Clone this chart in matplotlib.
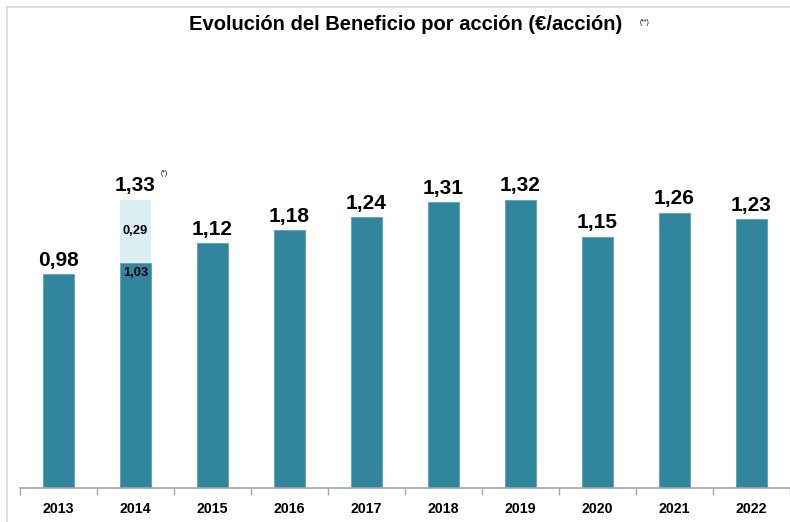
import matplotlib.pyplot as plt
from matplotlib.lines import Line2D

plt.rcParams["font.family"] = ["Liberation Sans", "DejaVu Sans"]

years = ["2013", "2014", "2015", "2016", "2017", "2018", "2019", "2020", "2021", "2022"]
eps = [0.98, 1.03, 1.12, 1.18, 1.24, 1.31, 1.32, 1.15, 1.26, 1.23]
extra_2014 = [0, 0.29, 0, 0, 0, 0, 0, 0, 0, 0]
labels = ["0,98", "1,33", "1,12", "1,18", "1,24", "1,31", "1,32", "1,15", "1,26", "1,23"]

DARK = "#31859C"
LIGHT = "#DBEEF4"

fig = plt.figure(figsize=(7.9, 5.22), dpi=100)
ax = fig.add_axes([20 / 790, 34 / 522, 770 / 790, 448 / 522])

x = range(len(years))
ax.bar(x, eps, width=0.4, color=DARK, edgecolor="#5BA3B8", linewidth=0.6)
ax.bar(x, extra_2014, bottom=eps, width=0.4, color=LIGHT, edgecolor="none")

for i, lab in enumerate(labels):
    top = eps[i] + extra_2014[i]
    ax.text(i, top + 0.02, lab, ha="center", va="bottom", fontsize=15, fontweight="bold")
    if extra_2014[i] > 0:
        ax.text(i, eps[i] + extra_2014[i] / 2, f"{extra_2014[i]:.2f}".replace(".", ","),
                ha="center", va="center", fontsize=9.3, fontweight="bold")
        ax.text(i, eps[i] - 0.045, f"{eps[i]:.2f}".replace(".", ","),
                ha="center", va="center", fontsize=9.3, fontweight="bold")
        ax.text(i + 0.33, top + 0.12, "(*)", ha="left", va="center", fontsize=5)

ax.set_xlim(-0.5, len(years) - 0.5)
ax.set_ylim(0, 448 / 218.4)

for side in ["top", "right", "left"]:
    ax.spines[side].set_visible(False)
ax.spines["bottom"].set_color("#A6A6A6")
ax.spines["bottom"].set_linewidth(1.2)
ax.set_yticks([])

ax.set_xticks(list(x))
ax.set_xticklabels(years, fontsize=10.2, fontweight="bold")
ax.tick_params(axis="x", which="major", length=0, pad=10)
ax.set_xticks([i - 0.5 for i in range(len(years) + 1)], minor=True)
ax.tick_params(axis="x", which="minor", length=5, color="#A6A6A6", width=1)

fig.text(406 / 790, 1 - 25 / 522, "Evolución del Beneficio por acción (€/acción)",
         ha="center", va="center", fontsize=14.5, fontweight="bold")
fig.text(640 / 790, 1 - 22 / 522, "(**)", ha="left", va="center", fontsize=5)

fig.add_artist(Line2D([7 / 790, 1], [1 - 7 / 522, 1 - 7 / 522], color="#D9D9D9", linewidth=1.2))
fig.add_artist(Line2D([7 / 790, 7 / 790], [0, 1 - 7 / 522], color="#D9D9D9", linewidth=1.2))

fig.savefig("out.png", dpi=100)
